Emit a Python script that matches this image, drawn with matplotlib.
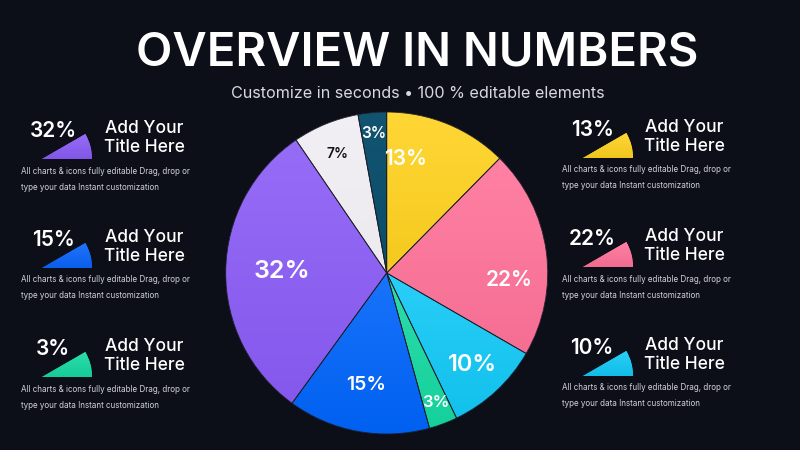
import numpy as np
import matplotlib
matplotlib.use('Agg')
import matplotlib.pyplot as plt
from matplotlib.patches import Wedge
from matplotlib.colors import to_rgb

# ----------------------------------------------------------
# Dados
# ----------------------------------------------------------
pie_values = [13, 22, 10, 3, 15, 32, 7, 3]
pie_labels = ['13%', '22%', '10%', '3%', '15%', '32%', '7%', '3%']
pie_colors = ['#FFD21F', '#FF7399', '#12C9F6', '#16D9A2', '#0064FA', '#8A5CF6', '#F1EFF4', '#0B4F6C']
label_colors = ['white', 'white', 'white', 'white', 'white', 'white', '#111111', 'white']

left_values = ['32%', '15%', '3%']
left_colors = ['#8A5CF6', '#0A64FA', '#16D9A2']
right_values = ['13%', '22%', '10%']
right_colors = ['#FFD21F', '#FF7399', '#12C9F6']

title = 'OVERVIEW IN NUMBERS'
subtitle = 'Customize in seconds \u2022 100 % editable elements'
card_title = 'Add Your\nTitle Here'
card_text = 'All charts & icons fully editable Drag, drop or\ntype your data Instant customization'

bg = '#0C0E18'
plt.rcParams['font.family'] = ['Inter', 'DejaVu Sans']

fig = plt.figure(figsize=(8, 4.5), dpi=100, facecolor=bg)
ax = fig.add_axes([0, 0, 1, 1])
ax.set_xlim(0, 800)
ax.set_ylim(0, 450)
ax.set_aspect('equal')
ax.axis('off')
ax.set_facecolor(bg)


def Y(y):
    # converte y de pixel (topo) para coordenadas do eixo
    return 450 - y


def gradiente(w, color, light=0.10, dark=0.04):
    # degrade vertical (mais claro em cima) recortado pela fatia
    t = np.linspace(np.deg2rad(min(w.theta1, w.theta2)), np.deg2rad(max(w.theta1, w.theta2)), 60)
    xs = np.concatenate([[w.center[0]], w.center[0] + w.r * np.cos(t)])
    ys = np.concatenate([[w.center[1]], w.center[1] + w.r * np.sin(t)])
    c = np.array(to_rgb(color))
    top = c + (1 - c) * light
    bot = c * (1 - dark)
    f = np.linspace(0, 1, 100)[:, None]
    img = (top * (1 - f) + bot * f)[:, None, :]
    im = ax.imshow(img, extent=(xs.min(), xs.max(), ys.min(), ys.max()), aspect='auto',
                   zorder=w.get_zorder() + 0.1, interpolation='bilinear')
    im.set_clip_path(w)


# titulo
ax.text(417, Y(53), title, color='white', fontsize=34, fontweight='semibold',
        ha='center', va='center', zorder=5)
ax.text(418, Y(93), subtitle, color='#D8D8E0', fontsize=11.6, ha='center', va='center', zorder=5)

# ----------------------------------------------------------
# Grafico de pizza
# ----------------------------------------------------------
cx, cy, R = 386.7, Y(273), 161
wedges, _ = ax.pie(pie_values, colors=pie_colors, startangle=90, counterclock=False,
                   center=(cx, cy), radius=R,
                   wedgeprops=dict(edgecolor='none', linewidth=0))
ax.set_xlim(0, 800)
ax.set_ylim(0, 450)
ax.set_aspect('equal')

for w, col in zip(wedges, pie_colors):
    if col in ('#F1EFF4', '#0B4F6C'):
        gradiente(w, col, light=0.03, dark=0.02)
    else:
        gradiente(w, col)
    ax.add_patch(Wedge(w.center, w.r, w.theta1, w.theta2, facecolor='none',
                       edgecolor='#1b1d2a', linewidth=0.6, zorder=3))

label_r = [0.72, 0.76, 0.78, 0.86, 0.71, 0.65, 0.80, 0.87]
label_shift = [13, -11, 0, 0, 0, 0, 0, 0]   # graus, deslocamento do rotulo
label_fs = [15, 15, 17, 12, 14, 18, 10, 11]
for w, lab, col, rr, sh, fs in zip(wedges, pie_labels, label_colors, label_r, label_shift, label_fs):
    ang = np.deg2rad((w.theta1 + w.theta2) / 2 + sh)
    ax.text(cx + rr * R * np.cos(ang), cy + rr * R * np.sin(ang), lab,
            color=col, fontsize=fs, fontweight='semibold', ha='center', va='center', zorder=5)

# ----------------------------------------------------------
# Cartoes laterais
# ----------------------------------------------------------
def card(x_apex, y_apex, pct, color, x_pct, x_title, x_desc):
    w = Wedge((x_apex, Y(y_apex)), 50, 0, 30, facecolor=color, edgecolor='none', zorder=2)
    ax.add_patch(w)
    gradiente(w, color, light=0.10, dark=0.06)
    ax.text(x_pct, Y(y_apex - 28), pct, color='white', fontsize=15, fontweight='semibold',
            ha='center', va='center', zorder=5)
    ax.text(x_title, Y(y_apex - 21), card_title, color='white', fontsize=12.5,
            fontweight='medium', ha='center', va='center', linespacing=1.2, zorder=5)
    ax.text(x_desc, Y(y_apex + 20), card_text, color='#D2D2DA', fontsize=5.8,
            ha='left', va='center', linespacing=2.0, zorder=5)


row_step = 109
for i in range(3):
    card(42, 159 + i * row_step, left_values[i], left_colors[i], 53, 144, 21)
    card(583, 158 + i * row_step, right_values[i], right_colors[i], 592, 684, 562)

plt.savefig('out.png', dpi=100, facecolor=bg)
